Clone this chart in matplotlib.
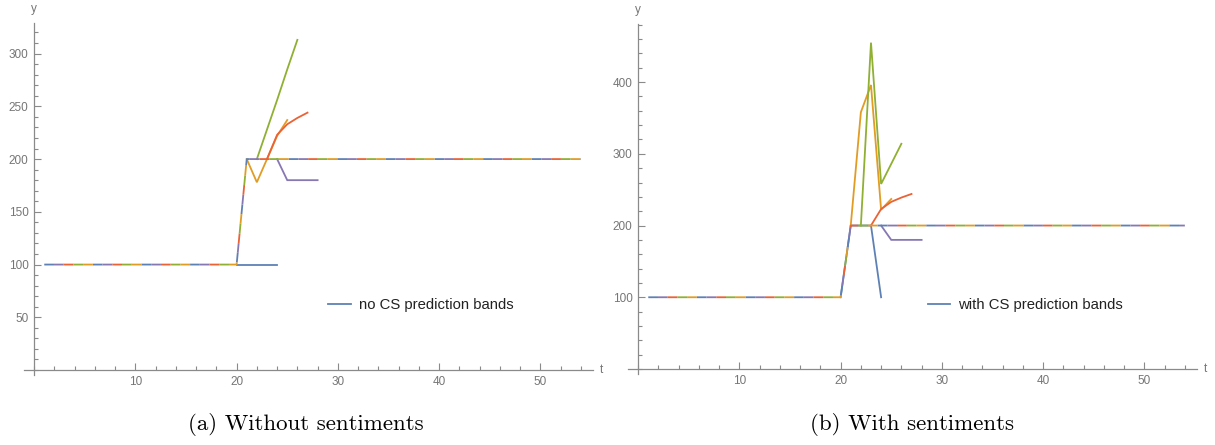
import numpy as np
import matplotlib.pyplot as plt
from matplotlib.ticker import MultipleLocator

plt.rcParams['lines.scale_dashes'] = False

# observed series (step from 100 to 200 after t=20)
t = np.arange(1, 55)
actual = [100] * 20 + [200] * 34

# forecast origins and 4-step-ahead predictions
origins = [20, 21, 22, 23, 24]
fc_without = [
    [100, 100, 100, 100],
    [178, 200, 222, 237],
    [228, 256, 285, 313],
    [223, 233, 239, 244],
    [180, 180, 180, 180],
]
fc_with = [
    [200, 200, 200, 100],
    [358, 396, 222, 237],
    [455, 258, 286, 314],
    [223, 233, 239, 244],
    [180, 180, 180, 180],
]
legend_labels = ['no CS prediction bands', 'with CS prediction bands']
captions = ['(a) Without sentiments', '(b) With sentiments']

# Mathematica default palette
colors = ['#5E81B5', '#E19C24', '#8FB032', '#EB6235', '#8778B3']
axis_gray = '#8a8a8a'
label_gray = '#767676'


def draw_panel(ax, forecasts, label, ymax, ymin, ymajor, yminor):
    for i, (o, fc) in enumerate(zip(origins, forecasts)):
        xs = [o] + list(range(o + 1, o + 1 + len(fc)))
        ys = [actual[o - 1]] + fc
        ax.plot(xs, ys, color=colors[i], lw=1.3, zorder=3,
                label=label if i == 0 else None, solid_joinstyle='miter')
    # overlapping series -> multicolour dashes
    L = 7
    for k, c in enumerate(colors):
        ax.plot(t, actual, color=c, lw=1.3, zorder=4,
                linestyle=(k * L, (L, L * (len(colors) - 1))))

    ax.set_xlim(-1, 55.2)
    ax.set_ylim(ymin, ymax)
    for s in ['top', 'right']:
        ax.spines[s].set_visible(False)
    ax.spines['left'].set_position(('data', 0))
    ax.spines['bottom'].set_position(('data', 0))
    for s in ['left', 'bottom']:
        ax.spines[s].set_color(axis_gray)
        ax.spines[s].set_linewidth(0.9)
    ax.set_xticks([10, 20, 30, 40, 50])
    ax.xaxis.set_minor_locator(MultipleLocator(2))
    ax.set_yticks(ymajor)
    ax.yaxis.set_minor_locator(MultipleLocator(yminor))
    ax.tick_params(which='both', direction='in', color=axis_gray, width=0.8,
                   labelcolor=label_gray, labelsize=8.5, pad=4)
    ax.tick_params(which='major', length=5)
    ax.tick_params(which='minor', length=3)
    for lab in ax.get_xticklabels() + ax.get_yticklabels():
        lab.set_family('Liberation Sans')
    ax.patch.set_alpha(0)

    ax.annotate('t', xy=(1, 0), xycoords=('axes fraction', 'data'),
                xytext=(5, 0), textcoords='offset points', va='center',
                color=label_gray, fontsize=8.5, family='Liberation Sans')
    ax.annotate('y', xy=(0, 1), xycoords=('data', 'axes fraction'),
                xytext=(0, 10), textcoords='offset points', ha='center',
                va='center', color=label_gray, fontsize=8.5, family='Liberation Sans')


fig = plt.figure(figsize=(12.15, 4.45), dpi=100)
W, H = 1215, 445

ax1 = fig.add_axes([24 / W, (H - 375) / H, 569 / W, 352 / H])
draw_panel(ax1, fc_without, legend_labels[0], 329, -4.7,
           [50, 100, 150, 200, 250, 300], 10)
ax1.legend(loc='center left', bbox_to_anchor=(0.535, 0.199), frameon=False,
           borderpad=0, borderaxespad=0, handlelength=1.5, handletextpad=0.55,
           prop={'family': 'Liberation Sans', 'size': 10.7}, labelcolor='#222222')

ax2 = fig.add_axes([628 / W, (H - 374) / H, 569 / W, 350 / H])
draw_panel(ax2, fc_with, legend_labels[1], 481, -7,
           [100, 200, 300, 400], 20)
ax2.legend(loc='center left', bbox_to_anchor=(0.527, 0.197), frameon=False,
           borderpad=0, borderaxespad=0, handlelength=1.5, handletextpad=0.55,
           prop={'family': 'Liberation Sans', 'size': 10.7}, labelcolor='#222222')

fig.text(305.5 / W, (H - 424) / H, captions[0], ha='center', va='center',
         family='cmr10', fontsize=16.5)
fig.text(912 / W, (H - 424) / H, captions[1], ha='center', va='center',
         family='cmr10', fontsize=16.5)

fig.savefig('out.png', dpi=100)
